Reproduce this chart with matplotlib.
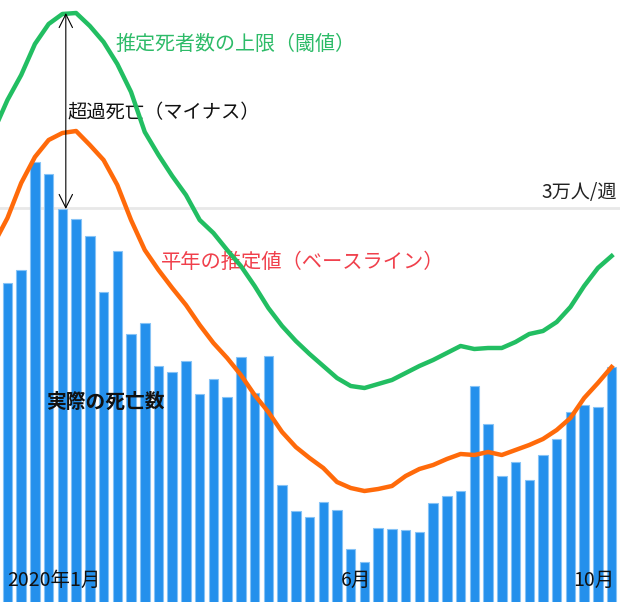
import numpy as np
import matplotlib.pyplot as plt

plt.rcParams['font.family'] = ['Noto Sans CJK JP', 'DejaVu Sans']

# weekly deaths, first week = 2020年1月
actual = [28120, 28440, 31140, 30850, 29975, 29720, 29290, 27890, 28920, 26840,
          27130, 26060, 25890, 26180, 25340, 25730, 25270, 26270, 25370, 26290,
          23080, 22420, 22270, 22640, 22440, 21470, 21140, 22010, 21970, 21940,
          21890, 22620, 22790, 22920, 25540, 24590, 23290, 23640, 23190, 23820,
          24230, 24900, 25070, 25030, 26030]

# baseline (平年の推定値), first value is the week before the chart
baseline = [29100,
            29750, 30625, 31275, 31700, 31875, 31925, 31575, 31200, 30575, 29700,
            28950, 28450, 28000, 27575, 27075, 26625, 26250, 25825, 25325, 24900,
            24400, 24025, 23750, 23500, 23150, 23000, 22925, 22975, 23050, 23300,
            23475, 23575, 23725, 23850, 23825, 23900, 23825, 23950, 24075, 24225,
            24450, 24750, 25250, 25625, 26025]

# upper bound (閾値)
upper = [31925,
         32700, 33325, 34100, 34600, 34850, 34875, 34550, 34150, 33600, 32900,
         31900, 31325, 30800, 30325, 29700, 29375, 28950, 28550, 28050, 27500,
         27050, 26675, 26350, 26050, 25750, 25550, 25500, 25600, 25700, 25875,
         26050, 26200, 26375, 26550, 26475, 26500, 26500, 26650, 26850, 26925,
         27150, 27525, 28050, 28500, 28800]

month_labels = ['2020年1月', '6月', '10月']
month_weeks = [0.0, 25.4, 42.7]

weeks = np.arange(len(actual))
line_weeks = np.arange(-1, len(actual))

fig = plt.figure(figsize=(6.2, 6.02), dpi=100)
ax = fig.add_axes([0, 0, 1, 1])
ax.set_xlim(-0.543, 44.61)
ax.set_ylim(20150, 35200)
ax.axis('off')

# 3万人/週 gridline
ax.axhline(30000, color='#E8E8E8', lw=2, zorder=0)
ax.text(44.4, 30120, '3万人/週', ha='right', va='bottom', fontsize=13.8, color='#222222')

ax.bar(weeks, actual, width=0.69, bottom=0, color='#2490EC',
       edgecolor='#86C3F6', linewidth=0.8, zorder=2)
ax.plot(line_weeks, baseline, color='#FF6A0A', lw=3.2, zorder=3, solid_joinstyle='round')
ax.plot(line_weeks, upper, color='#22BE62', lw=3.2, zorder=4, solid_joinstyle='round')

# excess deaths arrow
ax.annotate('', xy=(4.25, actual[4]), xytext=(4.25, max(upper)),
            arrowprops=dict(arrowstyle='<->', color='black', lw=0.8,
                            mutation_scale=24, shrinkA=0, shrinkB=0), zorder=5)

ax.text(7.9, 34100, '推定死者数の上限（閾値）', color='#2DBB68', fontsize=14.4,
        va='center', ha='left')
ax.text(4.4, 32380, '超過死亡（マイナス）', color='#111111', fontsize=13.9,
        va='center', ha='left')
ax.text(11.2, 28650, '平年の推定値（ベースライン）', color='#F0404C', fontsize=14.6,
        va='center', ha='left')
ax.text(2.8, 25150, '実際の死亡数', color='#111111', fontsize=14.2, fontweight='bold',
        va='center', ha='left')

for w, lab in zip(month_weeks, month_labels):
    ax.text(w, 20680, lab, ha='center' if w > 1 else 'left', va='center',
            fontsize=14, color='#111111', zorder=6)

fig.savefig('out.png', dpi=100)
